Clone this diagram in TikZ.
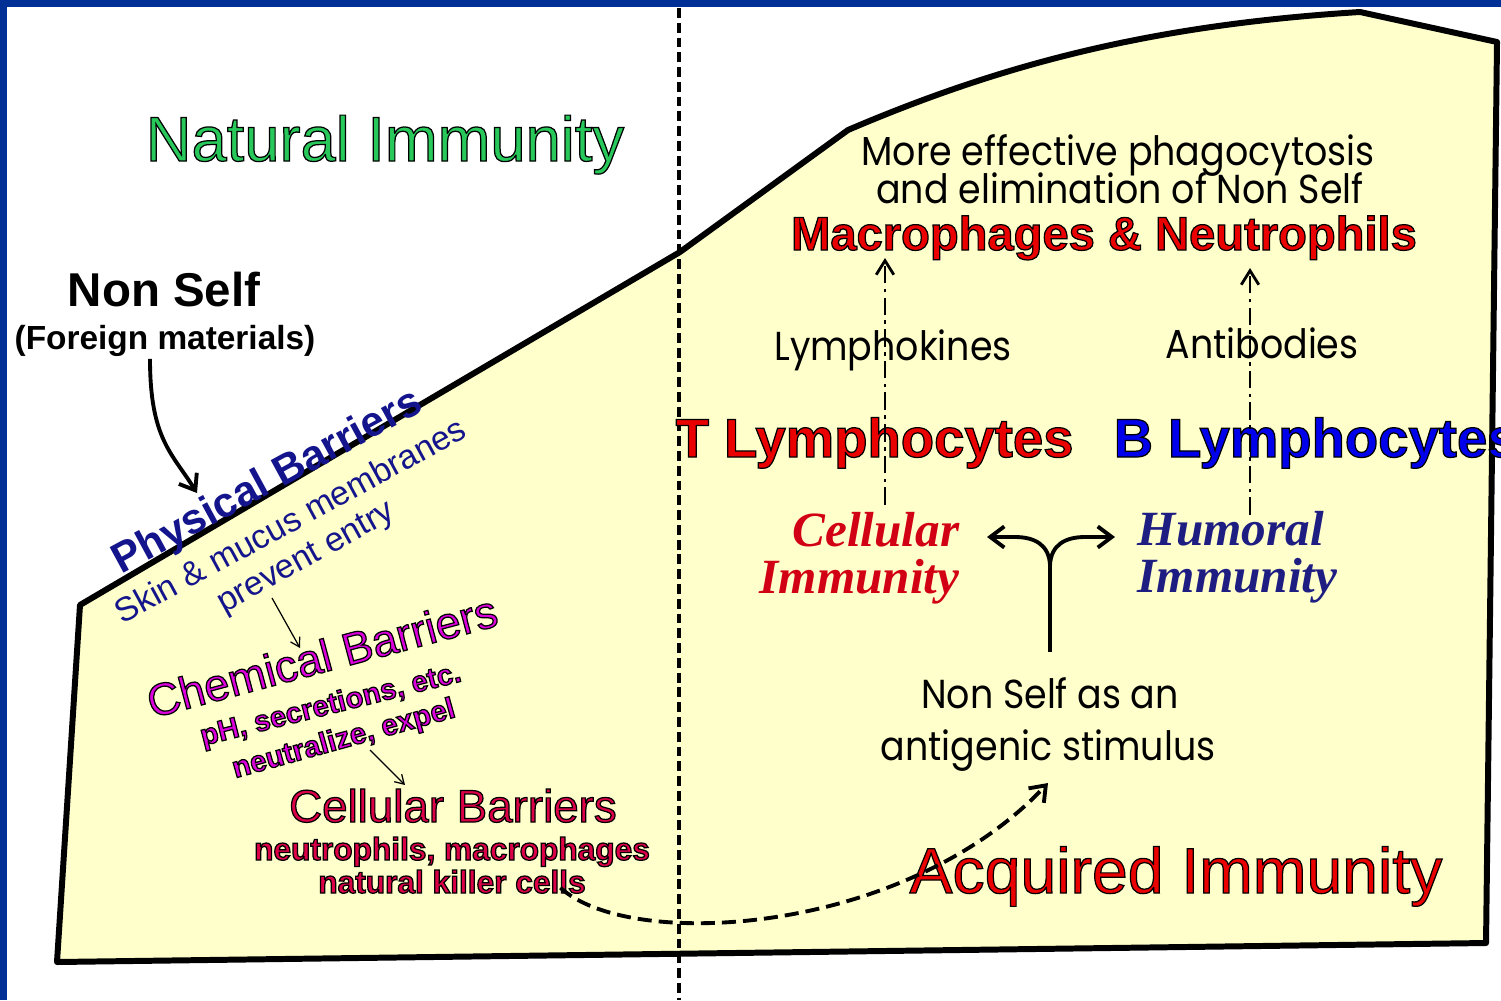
\documentclass[tikz,border=0pt]{standalone}
\usepackage{fontspec}
\setmainfont{Liberation Sans}
\newfontfamily\gothic{Poppins}
\newfontfamily\fancyit{Liberation Serif}
\usetikzlibrary{arrows.meta, positioning, calc}
\definecolor{frameblue}{RGB}{0,48,150}
\definecolor{paleyellow}{RGB}{255,255,204}
\definecolor{natgreen}{RGB}{40,200,90}
\definecolor{physblue}{RGB}{20,20,140}
\definecolor{chemmag}{RGB}{220,0,220}
\definecolor{cellred}{RGB}{220,0,70}
\definecolor{immred}{RGB}{210,0,20}
\definecolor{tred}{RGB}{235,0,0}
\definecolor{bblue}{RGB}{0,0,235}
\definecolor{humblue}{RGB}{30,30,130}
\newcommand{\outl}[1]{\special{pdf:literal direct 0 0 0 RG 0.35 w 2 Tr}#1\special{pdf:literal direct 0 Tr}}

\begin{document}
\begin{tikzpicture}[x=0.01cm, y=-0.01cm,
    every node/.style={inner sep=0pt},
    arr/.style={line width=1.1pt, -{Straight Barb[length=4pt, width=6pt]}},
    thinarr/.style={line width=0.35pt, -{Straight Barb[length=2.5pt, width=3pt]}},
    dasharr/.style={line width=0.8pt, dash pattern=on 5pt off 1.5pt on 1pt off 1.5pt, -{Straight Barb[length=4pt, width=5pt]}},
    gothictext/.style={font=\gothic\fontsize{11.5}{13}\selectfont, xscale=0.9},
    italictext/.style={font=\fancyit\bfseries\itshape\fontsize{14}{16}\selectfont}]
    \useasboundingbox (0,0) rectangle (1501,1000);
    \clip (0,0) rectangle (1501,1000);
    % frame and background
    \fill[white] (0,0) rectangle (1501,1000);
    \fill[frameblue] (0,0) rectangle (1501,7);
    \fill[frameblue] (0,0) rectangle (7,1000);
    \filldraw[fill=paleyellow, line width=1.7pt, line join=round]
        (57,962) -- (80,605) -- (680,252) -- (848,130)
        .. controls (1000,65) and (1150,25) .. (1360,12) -- (1497,42)
        -- (1486,943) -- cycle;
    \draw[line width=0.9pt, dash pattern=on 2.8pt off 1.4pt] (679,8) -- (679,1000);

    % natural immunity side
    \node[anchor=base, text=natgreen, font=\fontsize{18}{20}\selectfont] (natural) at (385,161) {\outl{Natural Immunity}};
    \node[anchor=base, font=\bfseries\fontsize{13.5}{15}\selectfont] (nonself) at (164,306) {Non Self};
    \node[anchor=base, font=\bfseries\fontsize{9.5}{11}\selectfont] (foreign) at (165,349) {(Foreign materials)};
    \node[rotate=28.5, text=physblue, font=\bfseries\fontsize{12}{14}\selectfont] (physical) at (268,483) {Physical Barriers};
    \node[rotate=28.5, text=physblue, font=\fontsize{9.6}{11}\selectfont] (skin) at (290,520) {Skin \& mucus membranes};
    \node[rotate=29, text=physblue, font=\fontsize{9.6}{11}\selectfont] (entry) at (307,559) {prevent entry};
    \node[rotate=15, text=chemmag, font=\fontsize{12.9}{14}\selectfont] (chemical) at (322,656) {\outl{Chemical Barriers}};
    \node[rotate=14, text=chemmag, font=\bfseries\fontsize{8.3}{10}\selectfont] (secretions) at (331,706) {\outl{pH, secretions, etc.}};
    \node[rotate=15.5, text=chemmag, font=\bfseries\fontsize{8.4}{10}\selectfont] (neutralize) at (344,740) {\outl{neutralize, expel}};
    \node[anchor=base, text=cellred, font=\fontsize{13}{15}\selectfont] (cellular) at (453,822) {\outl{Cellular Barriers}};
    \node[anchor=base, text=cellred, font=\bfseries\fontsize{9}{10}\selectfont] (phagocytes) at (452,860) {\outl{neutrophils, macrophages}};
    \node[anchor=base, text=cellred, font=\bfseries\fontsize{9}{10}\selectfont] (killer) at (452,893) {\outl{natural killer cells}};

    % acquired immunity side
    \node[anchor=base, text=tred, font=\fontsize{18.3}{20}\selectfont] (acquired) at (1176,893) {\outl{Acquired Immunity}};
    \node[anchor=base, gothictext] (stimulus1) at (1050,708) {Non Self as an};
    \node[anchor=base, gothictext] (stimulus2) at (1048,760) {antigenic stimulus};
    \node[anchor=base east, italictext, text=immred] (cellimm1) at (960,546) {Cellular};
    \node[anchor=base east, italictext, text=immred] (cellimm2) at (960,593) {Immunity};
    \node[anchor=base west, italictext, text=humblue] (humimm1) at (1137,545) {Humoral};
    \node[anchor=base west, italictext, text=humblue] (humimm2) at (1137,592) {Immunity};
    \node[anchor=base west, text=tred, font=\bfseries\fontsize{15.5}{17}\selectfont] (tlym) at (675,457) {\outl{T Lymphocytes}};
    \node[anchor=base west, text=bblue, font=\bfseries\fontsize{15.5}{17}\selectfont] (blym) at (1113,457) {\outl{B Lymphocytes}};
    \node[anchor=base, gothictext] (lymphokines) at (893,360) {Lymphokines};
    \node[anchor=base, gothictext] (antibodies) at (1262,358) {Antibodies};
    \node[anchor=base, text=tred, font=\bfseries\fontsize{13.4}{15}\selectfont] (macro) at (1104,250) {\outl{Macrophages \& Neutrophils}};
    \node[anchor=base, gothictext] (effect1) at (1118,165) {More effective phagocytosis};
    \node[anchor=base, gothictext] (effect2) at (1120,203) {and elimination of Non Self};

    % arrow ends
    \coordinate (physin) at (197,493);
    \coordinate (physout) at (272,598);
    \coordinate (chemin) at (300,648);
    \coordinate (chemout) at (370,750);
    \coordinate (cellin) at (405,785);
    \coordinate (stimin) at (1048,783);
    \coordinate (forkbase) at (1050,652);
    \coordinate (fork) at (1050,565);
    \coordinate (cellarr) at (987,537);
    \coordinate (humarr) at (1115,537);
    \coordinate (tstart) at (885,505);
    \coordinate (tend) at (885,258);
    \coordinate (bstart) at (1250,515);
    \coordinate (bend) at (1250,268);

    \draw[arr] ($(foreign.south)+(-15,2)$) .. controls +(0,80) and +(-25,-40) .. (physin);
    \draw[thinarr] (physout) -- (chemin);
    \draw[thinarr] (chemout) -- (cellin);
    \draw[arr, dash pattern=on 4pt off 2pt] ($(killer.east)+(-26,6)$) .. controls (630,952) and (905,935) .. (stimin);
    \draw[line width=1.1pt] (forkbase) -- (fork);
    \draw[arr] (fork) .. controls (1049,545) and (1035,537) .. (1015,537) -- (cellarr);
    \draw[arr] (fork) .. controls (1051,545) and (1065,537) .. (1085,537) -- (humarr);
    \draw[dasharr] (tstart) -- (tend);
    \draw[dasharr] (bstart) -- (bend);
\end{tikzpicture}
\end{document}
